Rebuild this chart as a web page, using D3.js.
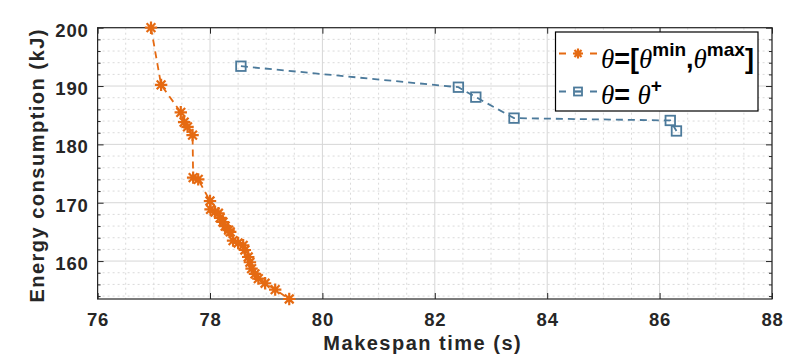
<!DOCTYPE html>
<html><head><meta charset="utf-8">
<script src="https://cdn.jsdelivr.net/npm/d3@7/dist/d3.min.js"></script>
<style>
body{margin:0;background:#fff;}
svg{display:block;}
</style></head>
<body>
<svg id="chart" width="797" height="363"></svg>
<script>
// Series 1: theta = [theta_min, theta_max]
const rangeX = [76.95,77.13,77.48,77.54,77.60,77.69,77.70,77.79,78.00,78.01,78.09,78.15,78.18,78.23,78.27,78.33,78.36,78.41,78.50,78.59,78.62,78.68,78.71,78.74,78.80,78.86,78.98,79.16,79.41];
const rangeY = [200.0,190.2,185.5,183.8,183.0,181.6,174.3,174.0,170.3,168.85,168.4,168.2,167.4,166.7,166.0,165.3,165.0,163.5,163.1,162.7,161.9,160.7,159.8,158.7,157.8,157.0,156.2,155.1,153.5];
// Series 2: theta = theta+
const plusX = [78.55,82.42,82.73,83.41,86.19,86.30];
const plusY = [193.4,189.8,188.1,184.5,184.1,182.3];
const xTicks = [76,78,80,82,84,86,88];
const yTicks = [160,170,180,190,200];
const xDomain = [76,88];
const yDomain = [153.5,200];

const svg = d3.select("#chart");
const m = {l:97.6, r:772, t:27.7, b:299};
const x = d3.scaleLinear().domain(xDomain).range([m.l, m.r]);
const y = d3.scaleLinear().domain(yDomain).range([m.b, m.t]);
const orange = "#E56A12", blue = "#4C7A9B", axisC = "#262626";
const sans = "'Liberation Sans', Arial, sans-serif";
const serif = "'Liberation Serif', 'Times New Roman', serif";

// grids
const xMinor = d3.range(76, 88.01, 0.5).filter(v => !xTicks.includes(v));
const yMinor = d3.range(154, 200.01, 2).filter(v => !yTicks.includes(v));
const g = svg.append("g");
g.selectAll(".xmin").data(xMinor).enter().append("line")
  .attr("x1", d=>x(d)).attr("x2", d=>x(d)).attr("y1", m.t).attr("y2", m.b)
  .attr("stroke", "#dadada").attr("stroke-width", 1).attr("stroke-dasharray", "2,3");
g.selectAll(".ymin").data(yMinor).enter().append("line")
  .attr("y1", d=>y(d)).attr("y2", d=>y(d)).attr("x1", m.l).attr("x2", m.r)
  .attr("stroke", "#dadada").attr("stroke-width", 1).attr("stroke-dasharray", "2,3");
g.selectAll(".xmaj").data(xTicks).enter().append("line")
  .attr("x1", d=>x(d)).attr("x2", d=>x(d)).attr("y1", m.t).attr("y2", m.b)
  .attr("stroke", "#d6d6d6").attr("stroke-width", 1);
g.selectAll(".ymaj").data(yTicks).enter().append("line")
  .attr("y1", d=>y(d)).attr("y2", d=>y(d)).attr("x1", m.l).attr("x2", m.r)
  .attr("stroke", "#d6d6d6").attr("stroke-width", 1);

// axes (ticks inward)
const xAxisB = d3.axisBottom(x).tickValues(xTicks).tickSizeInner(-6).tickSizeOuter(0).tickPadding(14);
const yAxisL = d3.axisLeft(y).tickValues(yTicks).tickSizeInner(-6).tickSizeOuter(0).tickPadding(9);
const gx = svg.append("g").attr("transform", `translate(0,${m.b})`).call(xAxisB);
const gy = svg.append("g").attr("transform", `translate(${m.l},0)`).call(yAxisL);
svg.append("g").attr("transform", `translate(0,${m.t})`).call(d3.axisTop(x).tickValues(xTicks).tickSizeInner(-6).tickSizeOuter(0).tickFormat(""));
svg.append("g").attr("transform", `translate(${m.r},0)`).call(d3.axisRight(y).tickValues(yTicks).tickSizeInner(-6).tickSizeOuter(0).tickFormat(""));
// minor ticks
svg.append("g").attr("transform", `translate(${m.l},0)`).call(d3.axisLeft(y).tickValues(yMinor).tickSizeInner(-3).tickSizeOuter(0).tickFormat(""));
svg.append("g").attr("transform", `translate(${m.r},0)`).call(d3.axisRight(y).tickValues(yMinor).tickSizeInner(-3).tickSizeOuter(0).tickFormat(""));
svg.selectAll(".domain").remove();
svg.selectAll(".tick line").attr("stroke", axisC);
[gx, gy].forEach(a => a.selectAll("text").attr("font-family", sans).attr("font-weight", "bold")
  .attr("font-size", 18.5).attr("letter-spacing", "0.8px").attr("fill", axisC));
gy.selectAll("text").attr("dy", "0.45em");
// box
svg.append("rect").attr("x", m.l).attr("y", m.t).attr("width", m.r-m.l).attr("height", m.b-m.t)
  .attr("fill", "none").attr("stroke", axisC).attr("stroke-width", 1.2);

// axis labels
svg.append("text").attr("x", (m.l+m.r)/2 - 12).attr("y", 349.5).attr("text-anchor", "middle")
  .attr("font-family", sans).attr("font-weight", "bold").attr("font-size", 20).attr("letter-spacing", "1.5px").attr("fill", axisC)
  .text("Makespan time (s)");
svg.append("text").attr("transform", `translate(44,${(m.t+m.b)/2 + 2}) rotate(-90)`).attr("text-anchor", "middle")
  .attr("font-family", sans).attr("font-weight", "bold").attr("font-size", 20).attr("letter-spacing", "1.5px").attr("fill", axisC)
  .text("Energy consumption (kJ)");

// marker helpers
function star(sel, cx, cy, r, color){
  const d = [];
  for (let k=0;k<4;k++){ const a = k*Math.PI/4; d.push(`M${cx-r*Math.cos(a)},${cy-r*Math.sin(a)}L${cx+r*Math.cos(a)},${cy+r*Math.sin(a)}`); }
  sel.append("path").attr("d", d.join("")).attr("stroke", color).attr("stroke-width", 2.2).attr("fill", "none");
}
function square(sel, cx, cy, s, color){
  sel.append("rect").attr("x", cx-s/2).attr("y", cy-s/2).attr("width", s).attr("height", s)
    .attr("fill", "none").attr("stroke", color).attr("stroke-width", 1.8);
}

const line = d3.line().x(d=>x(d[0])).y(d=>y(d[1]));
const rangeData = rangeX.map((v,i)=>[v, rangeY[i]]);
const plusData = plusX.map((v,i)=>[v, plusY[i]]);
const plot = svg.append("g");
plot.append("path").datum(plusData).attr("d", line).attr("fill", "none").attr("stroke", blue)
  .attr("stroke-width", 1.8).attr("stroke-dasharray", "7,5");
plusData.forEach(d => square(plot, x(d[0]), y(d[1]), 9.5, blue));
plot.append("path").datum(rangeData).attr("d", line).attr("fill", "none").attr("stroke", orange)
  .attr("stroke-width", 1.8).attr("stroke-dasharray", "7,5");
rangeData.forEach(d => star(plot, x(d[0]), y(d[1]), 6.2, orange));

// legend
const lg = svg.append("g");
lg.append("rect").attr("x", 555.5).attr("y", 32).attr("width", 202.5).attr("height", 79)
  .attr("fill", "#fff").attr("stroke", "#000").attr("stroke-width", 1.2);
const entries = [{c:orange, y:53.5, m:"star"}, {c:blue, y:91.5, m:"sq"}];
entries.forEach(e => {
  lg.append("line").attr("x1", 559).attr("x2", 597).attr("y1", e.y).attr("y2", e.y)
    .attr("stroke", e.c).attr("stroke-width", 1.8).attr("stroke-dasharray", "7,8.5");
  if (e.m === "star") star(lg, 578, e.y, 5, e.c); else {
    square(lg, 578, e.y, 8, e.c);
    lg.append("line").attr("x1", 575).attr("x2", 581).attr("y1", e.y).attr("y2", e.y).attr("stroke", e.c).attr("stroke-width", 1.5);
  }
});
function addTheta(t){ t.append("tspan").attr("font-family", serif).attr("font-style", "italic").attr("font-weight", "normal").text("θ"); }
const t1 = lg.append("text").attr("x", 601).attr("y", 68).attr("font-size", 27).attr("fill", "#000")
  .attr("font-family", sans).attr("font-weight", "bold");
addTheta(t1);
t1.append("tspan").text("=[");
addTheta(t1);
t1.append("tspan").attr("font-size", 19).attr("dy", -12).text("min");
t1.append("tspan").attr("dy", 12).text(",");
addTheta(t1);
t1.append("tspan").attr("font-size", 19).attr("dy", -12).text("max");
t1.append("tspan").attr("dy", 12).text("]");
const t2 = lg.append("text").attr("x", 601).attr("y", 104).attr("font-size", 27).attr("fill", "#000")
  .attr("font-family", sans).attr("font-weight", "bold");
addTheta(t2);
t2.append("tspan").text("= ");
addTheta(t2);
t2.append("tspan").attr("font-size", 19).attr("dy", -12).text("+");
</script>
</body></html>
